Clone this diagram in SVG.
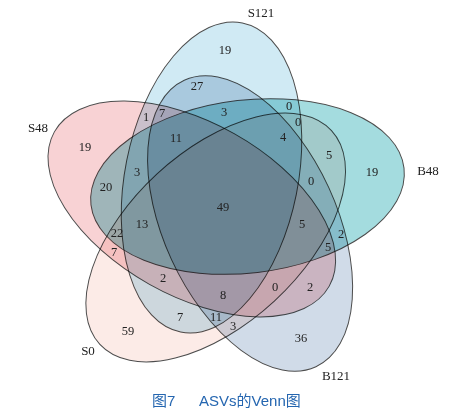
<svg xmlns="http://www.w3.org/2000/svg" width="468" height="413" viewBox="0 0 468 413">
<style>
.e{stroke:#4d4d4d;stroke-width:1;mix-blend-mode:multiply}
.n{font-family:"Liberation Serif","Times New Roman",serif;font-size:12.5px;fill:#222;text-anchor:middle;dominant-baseline:central}
.lab{font-family:"Liberation Serif","Times New Roman",serif;font-size:13px;fill:#222;text-anchor:middle;dominant-baseline:central}
.cap{font-family:"Liberation Sans","Noto Sans CJK SC",sans-serif;font-size:15px;fill:#2566b0;dominant-baseline:central}
</style>
<rect width="468" height="413" fill="#fff"/>
<g id="set-S121"><ellipse class="e" fill="#d0eaf4" rx="157.6" ry="86.5" transform="translate(211.5 177.5) rotate(-78.7)"/></g>
<g id="set-S48"><ellipse class="e" fill="#f8d2d4" rx="157.6" ry="86.5" transform="translate(191.8 209) rotate(29.3)"/></g>
<g id="set-B48"><ellipse class="e" fill="#a4dcdf" rx="157.6" ry="86.5" transform="translate(247.5 186.5) rotate(-6.7)"/></g>
<g id="set-B121"><ellipse class="e" fill="#d0dbe8" rx="157.6" ry="86.5" transform="translate(250.1 223.5) rotate(65.3)"/></g>
<g id="set-S0"><ellipse class="e" fill="#fcebe7" rx="157.6" ry="86.5" transform="translate(215.7 237.5) rotate(-42.7)"/></g>
<g id="connectors"></g>
<g id="set-labels">
<text class="lab" x="261" y="12">S121</text>
<text class="lab" x="38" y="127">S48</text>
<text class="lab" x="428" y="170">B48</text>
<text class="lab" x="88" y="350">S0</text>
<text class="lab" x="336" y="375">B121</text>
</g>
<g id="counts">
<text class="n" x="225" y="50">19</text>
<text class="n" x="197" y="86">27</text>
<text class="n" x="146" y="117">1</text>
<text class="n" x="162" y="113">7</text>
<text class="n" x="224" y="112">3</text>
<text class="n" x="289" y="106">0</text>
<text class="n" x="298" y="122">0</text>
<text class="n" x="283" y="137">4</text>
<text class="n" x="176" y="138">11</text>
<text class="n" x="85" y="147">19</text>
<text class="n" x="329" y="155">5</text>
<text class="n" x="372" y="172">19</text>
<text class="n" x="106" y="187">20</text>
<text class="n" x="137" y="172">3</text>
<text class="n" x="311" y="181">0</text>
<text class="n" x="223" y="207">49</text>
<text class="n" x="142" y="224">13</text>
<text class="n" x="302" y="224">5</text>
<text class="n" x="117" y="233">22</text>
<text class="n" x="341" y="234">2</text>
<text class="n" x="114" y="252">7</text>
<text class="n" x="328" y="247">5</text>
<text class="n" x="163" y="278">2</text>
<text class="n" x="223" y="295">8</text>
<text class="n" x="275" y="287">0</text>
<text class="n" x="310" y="287">2</text>
<text class="n" x="128" y="331">59</text>
<text class="n" x="180" y="317">7</text>
<text class="n" x="216" y="317">11</text>
<text class="n" x="233" y="326">3</text>
<text class="n" x="301" y="338">36</text>
</g>
<g id="caption">
<text class="cap" x="152" y="400">图7</text>
<text class="cap" x="199" y="400">ASVs的Venn图</text>
</g>
</svg>
